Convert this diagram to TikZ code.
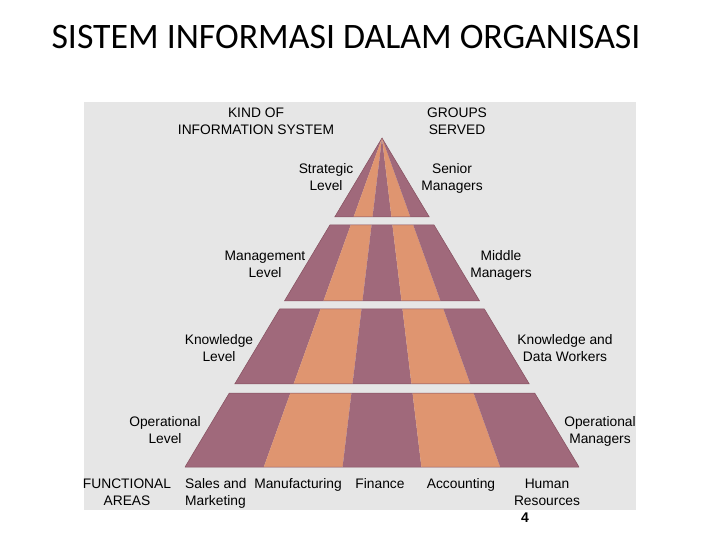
\documentclass[tikz,border=0pt]{standalone}
\usepackage{fontspec}
\setmainfont{Liberation Sans}
\newfontfamily\titlefont{Carlito}
\usetikzlibrary{calc}
\definecolor{mauveS}{HTML}{A0697B}
\definecolor{orangeS}{HTML}{DF9570}
\definecolor{mauveD}{HTML}{85505F}
\definecolor{panelG}{HTML}{E6E6E6}
\tikzset{
  lbl/.style={font=\fontsize{13.8}{17}\selectfont, align=center, inner sep=0pt, text=black},
  lblL/.style={font=\fontsize{13.8}{17}\selectfont, align=left, inner sep=0pt, text=black},
}
\begin{document}
\begin{tikzpicture}[x=1pt,y=-1pt]
\useasboundingbox (0,0) rectangle (720,540);
\fill[white] (0,0) rectangle (720,540);
\fill[panelG] (84,102) rectangle (636,510);
\node[font=\titlefont\fontsize{35.8}{40}\selectfont, inner sep=0pt] (title) at (346,37) {SISTEM INFORMASI DALAM ORGANISASI};
% pyramid
\coordinate (A) at (382,138);
\foreach \i/\x in {0/185,1/263.8,2/342.6,3/421.4,4/500.2,5/579}
  \coordinate (B\i) at (\x,467);
\foreach \ya/\yb in {138/217,225/301,309/384,393/467}{
  \pgfmathsetmacro\ta{(\ya-138)/329}
  \pgfmathsetmacro\tb{(\yb-138)/329}
  \foreach \i/\j/\c in {0/1/mauveS,1/2/orangeS,2/3/mauveS,3/4/orangeS,4/5/mauveS}{
    \fill[\c] ($(A)!\ta!(B\i)$) -- ($(A)!\ta!(B\j)$) -- ($(A)!\tb!(B\j)$) -- ($(A)!\tb!(B\i)$) -- cycle;
  }
  \draw[mauveD, line width=0.5pt, line join=round] ($(A)!\ta!(B0)$) -- ($(A)!\ta!(B5)$) -- ($(A)!\tb!(B5)$) -- ($(A)!\tb!(B0)$) -- cycle;
}
% labels
\node[lbl] (kind) at (256,121.5) {KIND OF\\INFORMATION SYSTEM};
\node[lbl] (groups) at (457,121.5) {GROUPS\\SERVED};
\node[lbl] (strat) at (326,177.5) {Strategic\\Level};
\node[lbl] (senior) at (452,178) {Senior\\Managers};
\node[lbl] (mgmt) at (265,264.5) {Management\\Level};
\node[lbl] (middle) at (501,265) {Middle\\Managers};
\node[lbl] (know) at (219,348) {Knowledge\\Level};
\node[lbl] (kdw) at (565,348) {Knowledge and\\Data Workers};
\node[lbl] (opl) at (165,430) {Operational\\Level};
\node[lbl] (opm) at (600,431) {Operational\\Managers};
\node[lbl] (func) at (127,492) {FUNCTIONAL\\AREAS};
\node[lblL, anchor=west] (sales) at (185,493) {Sales and\\Marketing};
\node[lbl, anchor=base] (manuf) at (298,488.8) {Manufacturing};
\node[lbl, anchor=base] (fin) at (380,488.8) {Finance};
\node[lbl, anchor=base] (acc) at (461,488.8) {Accounting};
\node[lbl] (hr) at (547,492) {Human\\Resources};
\node[font=\bfseries\fontsize{14}{16}\selectfont, inner sep=0pt] (pg) at (525,517.5) {4};
\end{tikzpicture}
\end{document}
